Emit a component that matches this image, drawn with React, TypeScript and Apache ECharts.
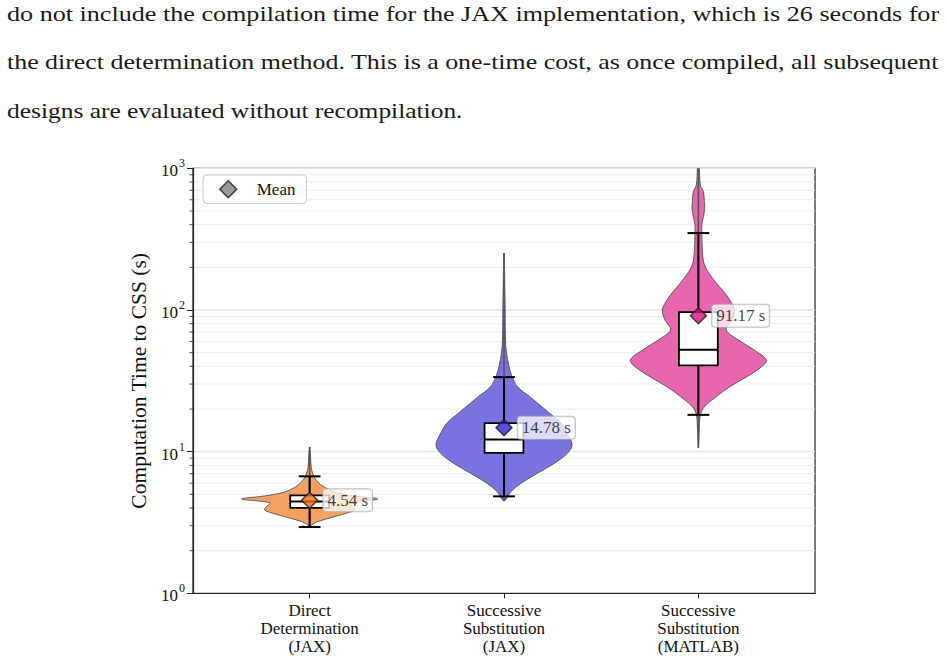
import { useEffect, useRef } from 'react';
import * as echarts from 'echarts';

const FONT = 'Liberation Serif';

const paragraphLines = [
  'do not include the compilation time for the JAX implementation, which is 26 seconds for',
  'the direct determination method. This is a one-time cost, as once compiled, all subsequent',
  'designs are evaluated without recompilation.',
];

const categories = [
  'Direct\nDetermination\n(JAX)',
  'Successive\nSubstitution\n(JAX)',
  'Successive\nSubstitution\n(MATLAB)',
];

// summary statistics, seconds
const meanSeconds = [4.54, 14.78, 91.17];
const medianSeconds = [4.45, 12.2, 52.5];
const q1Seconds = [4.01, 9.8, 40.6];
const q3Seconds = [4.91, 15.9, 96.7];
const whiskerLow = [2.94, 4.84, 18.2];
const whiskerHigh = [6.7, 33.6, 349];
const rangeMin = [2.94, 4.5, 10.6];
const rangeMax = [10.8, 252, 1500];

// KDE outlines: sample times (s) and density relative to each violin's peak
const ddTimes = [2.94, 3.04, 3.19, 3.41, 3.69, 3.88, 4.07, 4.35, 4.64, 4.87, 5.19, 5.64, 6.11, 6.74, 7.67, 9.48, 10.8];
const ddDensity = [0, 0.03, 0.1, 0.3, 0.55, 0.66, 0.64, 0.58, 1.0, 0.66, 0.37, 0.21, 0.12, 0.06, 0.025, 0.012, 0];

const ssJaxTimes = [4.5, 5.22, 5.98, 7.04, 8.28, 9.74, 11.15, 13.5, 15.9, 18.7, 24.4, 28.7, 33.7, 40, 50, 61, 118, 252];
const ssJaxDensity = [0, 0.1, 0.25, 0.49, 0.74, 0.93, 1.0, 0.93, 0.84, 0.67, 0.38, 0.2, 0.12, 0.074, 0.037, 0.022, 0.015, 0];

const ssMatlabTimes = [10.6, 15.0, 18.2, 20.8, 24.4, 28.7, 33.8, 39.8, 44.4, 52.2, 61.4, 72.3, 85, 100, 118, 135, 167, 208, 258, 357, 398, 455, 522, 581, 684, 762, 1000, 1500];
const ssMatlabDensity = [0, 0.015, 0.03, 0.09, 0.26, 0.46, 0.71, 0.93, 1.0, 0.82, 0.59, 0.41, 0.49, 0.53, 0.46, 0.37, 0.21, 0.09, 0.06, 0.05, 0.05, 0.074, 0.093, 0.088, 0.074, 0.03, 0.015, 0];

const violinTimes = [ddTimes, ssJaxTimes, ssMatlabTimes];
const violinDensity = [ddDensity, ssJaxDensity, ssMatlabDensity];

const violinColors = ['#F6A162', '#7A72DE', '#E866AD'];
const meanColors = ['#F46A0C', '#2B20D2', '#D6127C'];

const majorGrid = [1, 10, 100, 1000];
const minorGrid = [2, 3, 4, 5, 6, 7, 8, 9, 20, 30, 40, 50, 60, 70, 80, 90, 200, 300, 400, 500, 600, 700, 800, 900];

const VIOLIN_HALF = 0.35;
const BOX_HALF = 0.1;
const CAP_HALF = 0.056;

const PARA_SIZE = 22;
const PARA_LEFT = 7;
const PARA_WIDTHS = [933, 933, 456];
const PARA_CENTERS = [13.5, 62, 110.5];

function App() {
  const ref = useRef<HTMLDivElement>(null);

  useEffect(() => {
    if (!ref.current) return;
    const chart = echarts.init(ref.current, null, { renderer: 'svg' });

    // stretch each paragraph line to its set width (justified text block)
    const ctx = document.createElement('canvas').getContext('2d');
    const paragraph = paragraphLines.map((line, k) => {
      let w = PARA_WIDTHS[k];
      if (ctx) {
        ctx.font = `${PARA_SIZE}px "${FONT}"`;
        w = ctx.measureText(line).width || w;
      }
      return {
        type: 'text',
        x: PARA_LEFT,
        y: PARA_CENTERS[k],
        scaleX: PARA_WIDTHS[k] / w,
        silent: true,
        style: {
          text: line,
          fontFamily: FONT,
          fontSize: PARA_SIZE,
          fill: '#1a1a1a',
          textAlign: 'left',
          textVerticalAlign: 'middle',
        },
      };
    });

    const gridData = [
      ...majorGrid.map((v) => [0, v, 1]),
      ...minorGrid.map((v) => [0, v, 0]),
    ];

    chart.setOption({
      animation: false,
      textStyle: { fontFamily: FONT },
      graphic: paragraph,
      grid: {
        left: 193,
        top: 168.3,
        width: 622,
        height: 425.1,
        show: true,
        borderColor: '#222',
        borderWidth: 1.2,
        backgroundColor: 'transparent',
      },
      legend: {
        data: ['Mean'],
        left: 203,
        top: 175,
        icon: 'diamond',
        itemWidth: 17,
        itemHeight: 17,
        padding: [5, 11, 5, 16],
        backgroundColor: 'rgba(255,255,255,0.8)',
        borderColor: '#cccccc',
        borderWidth: 1,
        borderRadius: 4,
        itemStyle: { color: '#808080', borderColor: '#1a1a1a', borderWidth: 1.5 },
        textStyle: { fontFamily: FONT, fontSize: 17, color: '#111', padding: [0, 0, 0, 15] },
      },
      xAxis: {
        type: 'value',
        min: -0.6,
        max: 2.6,
        splitLine: { show: false },
        axisLine: { show: true, onZero: false, lineStyle: { color: '#222', width: 1.2 } },
        axisTick: { show: true, customValues: [0, 1, 2], length: 5, lineStyle: { color: '#222', width: 1 } },
        axisLabel: {
          customValues: [0, 1, 2],
          formatter: (v: number) => categories[Math.round(v)] ?? '',
          fontFamily: FONT,
          fontSize: 17,
          lineHeight: 18,
          color: '#111',
          margin: 8,
        },
      },
      yAxis: {
        type: 'log',
        logBase: 10,
        min: 1,
        max: 1000,
        name: 'Computation Time to CSS (s)',
        nameLocation: 'middle',
        nameRotate: 90,
        nameGap: 41,
        nameTextStyle: { fontFamily: FONT, fontSize: 21.5, color: '#111' },
        splitLine: { show: false },
        axisLine: { show: true, onZero: false, lineStyle: { color: '#222', width: 1.2 } },
        axisTick: { show: true, length: 6, lineStyle: { color: '#222', width: 1 } },
        axisLabel: {
          margin: 8,
          fontSize: 17,
          fontFamily: FONT,
          color: '#111',
          formatter: (v: number) => `{b|10}{s|${Math.round(Math.log10(v))}}`,
          rich: {
            b: { fontFamily: FONT, fontSize: 17, color: '#111', padding: [5, 0, 0, 0] },
            s: { fontFamily: FONT, fontSize: 12, color: '#111', padding: [0, 0, 10, 1] },
          },
        },
      },
      series: [
        {
          type: 'custom',
          name: 'grid',
          silent: true,
          z: 0,
          data: gridData,
          encode: { x: 0, y: 1 },
          renderItem: (params: any, api: any) => {
            const v = api.value(1);
            const major = api.value(2) === 1;
            const cs = params.coordSys;
            const y = api.coord([0, v])[1];
            const children: any[] = [
              {
                type: 'line',
                shape: { x1: cs.x, y1: y, x2: cs.x + cs.width, y2: y },
                style: { stroke: major ? '#e4e4e4' : '#efefef', lineWidth: major ? 1.3 : 1 },
              },
            ];
            if (!major) {
              children.push({
                type: 'line',
                shape: { x1: cs.x - 3.5, y1: y, x2: cs.x, y2: y },
                style: { stroke: '#222', lineWidth: 0.8 },
              });
            }
            return { type: 'group', children };
          },
        },
        {
          type: 'custom',
          name: 'violins',
          silent: true,
          clip: true,
          z: 2,
          data: categories.map((_, i) => [i, medianSeconds[i]]),
          encode: { x: 0, y: 1 },
          renderItem: (params: any, api: any) => {
            const i = params.dataIndex;
            const times = violinTimes[i];
            const dens = violinDensity[i];
            const right = times.map((t, k) => api.coord([i + dens[k] * VIOLIN_HALF, t]));
            const left = times
              .slice(1, -1)
              .map((t, k) => api.coord([i - dens[k + 1] * VIOLIN_HALF, t]))
              .reverse();
            const top = api.coord([i, rangeMax[i]]);
            const bottom = api.coord([i, rangeMin[i]]);
            return {
              type: 'group',
              children: [
                {
                  type: 'polygon',
                  shape: { points: right.concat(left), smooth: 0.35 },
                  style: { fill: violinColors[i], stroke: '#4a4a4a', lineWidth: 1, strokeOpacity: 0.85 },
                },
                {
                  type: 'line',
                  shape: { x1: top[0], y1: top[1], x2: bottom[0], y2: bottom[1] },
                  style: { stroke: '#555', lineWidth: 1.6 },
                },
              ],
            };
          },
        },
        {
          type: 'custom',
          name: 'boxes',
          silent: true,
          z: 3,
          data: categories.map((_, i) => [i, medianSeconds[i]]),
          encode: { x: 0, y: 1 },
          renderItem: (params: any, api: any) => {
            const i = params.dataIndex;
            const lo = api.coord([i, whiskerLow[i]]);
            const hi = api.coord([i, whiskerHigh[i]]);
            const capLoL = api.coord([i - CAP_HALF, whiskerLow[i]]);
            const capLoR = api.coord([i + CAP_HALF, whiskerLow[i]]);
            const capHiL = api.coord([i - CAP_HALF, whiskerHigh[i]]);
            const capHiR = api.coord([i + CAP_HALF, whiskerHigh[i]]);
            const boxTL = api.coord([i - BOX_HALF, q3Seconds[i]]);
            const boxBR = api.coord([i + BOX_HALF, q1Seconds[i]]);
            const medL = api.coord([i - BOX_HALF, medianSeconds[i]]);
            const medR = api.coord([i + BOX_HALF, medianSeconds[i]]);
            const stroke = { stroke: '#000', lineWidth: 2 };
            return {
              type: 'group',
              children: [
                { type: 'line', shape: { x1: lo[0], y1: lo[1], x2: hi[0], y2: hi[1] }, style: stroke },
                { type: 'line', shape: { x1: capLoL[0], y1: capLoL[1], x2: capLoR[0], y2: capLoR[1] }, style: stroke },
                { type: 'line', shape: { x1: capHiL[0], y1: capHiL[1], x2: capHiR[0], y2: capHiR[1] }, style: stroke },
                {
                  type: 'rect',
                  shape: { x: boxTL[0], y: boxTL[1], width: boxBR[0] - boxTL[0], height: boxBR[1] - boxTL[1] },
                  style: { fill: '#fff', stroke: '#000', lineWidth: 1.8 },
                },
                { type: 'line', shape: { x1: medL[0], y1: medL[1], x2: medR[0], y2: medR[1] }, style: stroke },
              ],
            };
          },
        },
        {
          type: 'scatter',
          name: 'Mean',
          symbol: 'diamond',
          symbolSize: 16,
          z: 10,
          itemStyle: { color: '#808080', borderColor: '#1a1a1a', borderWidth: 1.5 },
          data: meanSeconds.map((m, i) => ({ value: [i, m], itemStyle: { color: meanColors[i] } })),
          label: {
            show: true,
            position: 'right',
            distance: 5,
            formatter: (p: any) => `${p.value[1].toFixed(2)} s`,
            fontFamily: FONT,
            fontSize: 17,
            color: '#111',
            backgroundColor: 'rgba(255,255,255,0.93)',
            borderColor: '#b0b0b0',
            borderWidth: 1,
            borderRadius: 3,
            padding: [3, 4, 2, 4],
          },
        },
      ],
    });

    return () => chart.dispose();
  }, []);

  return (
    <div
      style={{
        position: 'fixed',
        left: 0,
        top: 0,
        width: 947,
        height: 662,
        background: '#fff',
        overflow: 'hidden',
      }}
    >
      <div ref={ref} style={{ position: 'absolute', left: 0, top: 0, width: 947, height: 662 }} />
    </div>
  );
}

export default App;
